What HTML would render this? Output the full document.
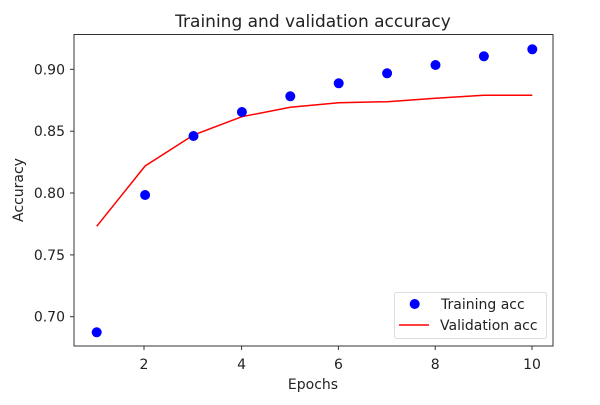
<!DOCTYPE html><html><head><style>body{margin:0;background:#fff}svg{display:block;font-family:"DejaVu Sans","Liberation Sans",sans-serif}</style></head><body>
<svg width="600" height="405" viewBox="0 0 600 405">
<rect width="600" height="405" fill="#fff"/>
<text x="313" y="27" font-size="17" text-anchor="middle" fill="#222">Training and validation accuracy</text>
<g stroke="#333" stroke-width="1">
<line x1="70" y1="69.3" x2="74" y2="69.3"/><line x1="70" y1="131.2" x2="74" y2="131.2"/><line x1="70" y1="193" x2="74" y2="193"/><line x1="70" y1="254.9" x2="74" y2="254.9"/><line x1="70" y1="316.7" x2="74" y2="316.7"/>
<line x1="144" y1="346" x2="144" y2="350"/><line x1="241.6" y1="346" x2="241.6" y2="350"/><line x1="338.4" y1="346" x2="338.4" y2="350"/><line x1="435.2" y1="346" x2="435.2" y2="350"/><line x1="532" y1="346" x2="532" y2="350"/>
</g>
<g font-size="14" fill="#222" text-anchor="end">
<text x="65" y="74.3">0.90</text><text x="65" y="136.2">0.85</text><text x="65" y="198">0.80</text><text x="65" y="259.9">0.75</text><text x="65" y="321.7">0.70</text>
</g>
<g font-size="14" fill="#222" text-anchor="middle">
<text x="144" y="369">2</text><text x="241.6" y="369">4</text><text x="338.4" y="369">6</text><text x="435.2" y="369">8</text><text x="532" y="369">10</text>
</g>
<text x="313" y="389" font-size="14" text-anchor="middle" fill="#222">Epochs</text>
<text transform="translate(23,190) rotate(-90)" font-size="14" text-anchor="middle" fill="#222">Accuracy</text>
<polyline fill="none" stroke="#f00" stroke-width="1.5" points="96.7,226.3 145.1,166 193.5,135 241.9,116.7 290.3,107.3 338.7,102.7 387.1,101.7 435.5,98.3 483.9,95.3 532.3,95.3"/>
<g fill="#00f">
<circle cx="96.7" cy="332.3" r="5" /><circle cx="145.1" cy="195" r="5"/><circle cx="193.5" cy="136" r="5"/><circle cx="241.9" cy="112" r="5"/><circle cx="290.3" cy="96.3" r="5"/><circle cx="338.7" cy="83.3" r="5"/><circle cx="387.1" cy="73.3" r="5"/><circle cx="435.5" cy="65" r="5"/><circle cx="483.9" cy="56.3" r="5"/><circle cx="532.3" cy="49.3" r="5"/>
</g>
<rect x="74" y="34.5" width="479" height="311.5" fill="none" stroke="#333" stroke-width="1"/>
<rect x="394.5" y="292.5" width="152" height="46" rx="2" fill="#fff" fill-opacity="0.8" stroke="#ddd"/>
<circle cx="414.7" cy="304" r="5" fill="#00f"/>
<line x1="399" y1="325" x2="429" y2="325" stroke="#f00" stroke-width="1.5"/>
<g font-size="14" fill="#222"><text x="441" y="309">Training acc</text><text x="440" y="330">Validation acc</text></g>
</svg></body></html>
